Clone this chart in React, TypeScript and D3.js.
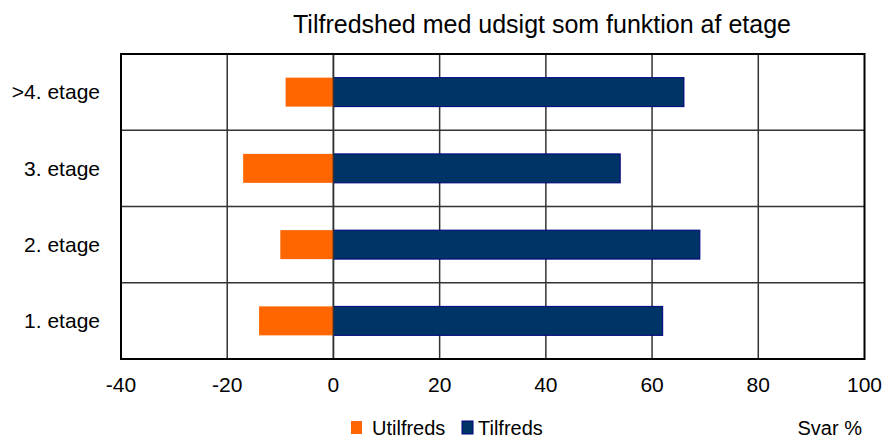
import React from "react";
import * as d3 from "d3";

const categories = [">4. etage", "3. etage", "2. etage", "1. etage"];
const utilfreds = [-9, -17, -10, -14];
const tilfreds = [66, 54, 69, 62];
const xTicks = [-40, -20, 0, 20, 40, 60, 80, 100];
const seriesNames = ["Utilfreds", "Tilfreds"];
const seriesColors = ["#FF6600", "#003366"];

const W = 884;
const H = 439;
const left = 121;
const right = 864.5;
const top = 54;
const bottom = 359;
const font = "'Liberation Sans', Arial, sans-serif";

export default function App() {
  const x = d3.scaleLinear().domain([-40, 100]).range([left, right]);
  const y = d3.scaleBand().domain(categories).range([top, bottom]).paddingInner(0).paddingOuter(0);
  const bw = y.bandwidth();
  const barH = bw * 0.38;

  return (
    <svg width={W} height={H} style={{ position: "absolute", left: 0, top: 0 }} fontFamily={font}>
      <rect x={0} y={0} width={W} height={H} fill="#fff" />
      <text x={293} y={33} fontSize={25} fill="#000">Tilfredshed med udsigt som funktion af etage</text>
      {xTicks.slice(1, -1).map((t) => (
        <line key={"v" + t} x1={x(t)} x2={x(t)} y1={top} y2={bottom} stroke="#333" strokeWidth={1.5} />
      ))}
      {categories.slice(1).map((c) => (
        <line key={"h" + c} x1={left} x2={right} y1={y(c)!} y2={y(c)!} stroke="#333" strokeWidth={1.5} />
      ))}
      {categories.map((c, i) => {
        const cy = y(c)! + bw / 2;
        return (
          <g key={c}>
            <rect x={x(utilfreds[i])} y={cy - barH / 2} width={x(0) - x(utilfreds[i])} height={barH} fill={seriesColors[0]} />
            <rect x={x(0)} y={cy - barH / 2} width={x(tilfreds[i]) - x(0)} height={barH} fill={seriesColors[1]} stroke="#000080" strokeWidth={1} />
          </g>
        );
      })}
      <line x1={x(0)} x2={x(0)} y1={top} y2={bottom} stroke="#333" strokeWidth={1.5} />
      <rect x={left} y={top} width={right - left} height={bottom - top} fill="none" stroke="#000" strokeWidth={2} />
      {categories.map((c) => (
        <text key={"l" + c} x={100} y={y(c)! + bw / 2} dy="0.35em" textAnchor="end" fontSize={21} fill="#000">{c}</text>
      ))}
      {xTicks.map((t) => (
        <text key={"t" + t} x={x(t)} y={392} textAnchor="middle" fontSize={21} fill="#000">{t}</text>
      ))}
      <rect x={351} y={421} width={11} height={13} fill={seriesColors[0]} />
      <text x={372} y={435} fontSize={20} fill="#000">{seriesNames[0]}</text>
      <rect x={462} y={421} width={11} height={13} fill={seriesColors[1]} stroke="#000080" strokeWidth={1} />
      <text x={478} y={435} fontSize={20} fill="#000">{seriesNames[1]}</text>
      <text x={862} y={435} textAnchor="end" fontSize={20} fill="#000">Svar %</text>
    </svg>
  );
}
